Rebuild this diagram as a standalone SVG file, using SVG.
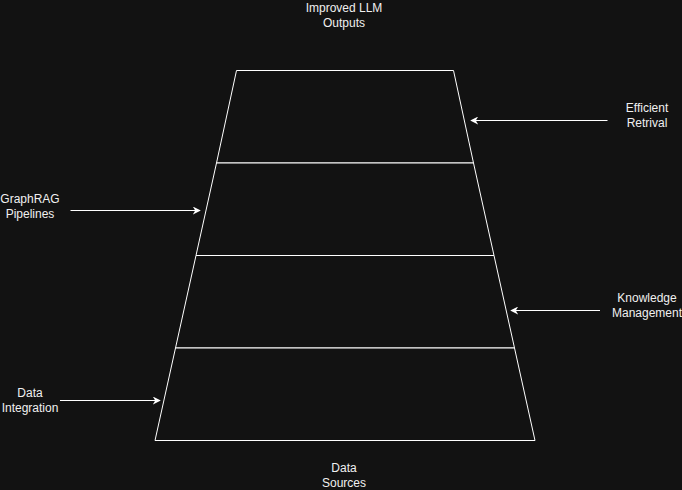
<svg xmlns="http://www.w3.org/2000/svg" width="682" height="490" viewBox="0 0 682 490">
<style>
.layer{fill:#121212;stroke:#ffffff;stroke-width:1}
.lbl{font-family:"Liberation Sans",Arial,sans-serif;font-size:12px;fill:#f0f0f0;text-anchor:middle}
.conn{stroke:#ffffff;stroke-width:1;fill:none;marker-end:url(#arr)}
</style>
<defs>
<marker id="arr" viewBox="0 0 10 10" markerWidth="8" markerHeight="8" refX="9" refY="5" orient="auto" markerUnits="userSpaceOnUse">
<path d="M0,0 L10,5 L0,10 L3,5 Z" fill="#ffffff" stroke="none"/>
</marker>
</defs>
<rect x="0" y="0" width="682" height="490" fill="#121212"/>
<g id="layer1"><polygon class="layer" points="236.5,70.5 453.5,70.5 473.5,163 216.5,163"/></g>
<g id="layer2"><polygon class="layer" points="216.5,163 473.5,163 494,255.5 196,255.5"/></g>
<g id="layer3"><polygon class="layer" points="196,255.5 494,255.5 514.5,348 175.5,348"/></g>
<g id="layer4"><polygon class="layer" points="175.5,348 514.5,348 535,440.5 155,440.5"/></g>
<g id="label-top"><text class="lbl" x="344" y="12">Improved LLM</text><text class="lbl" x="344" y="27">Outputs</text></g>
<g id="label-bottom"><text class="lbl" x="344" y="471.5">Data</text><text class="lbl" x="344" y="487">Sources</text></g>
<g id="label-efficient"><text class="lbl" x="647" y="111.5">Efficient</text><text class="lbl" x="647" y="127">Retrival</text></g>
<g id="label-graphrag"><text class="lbl" x="30" y="202.5">GraphRAG</text><text class="lbl" x="30" y="217.5">Pipelines</text></g>
<g id="label-knowledge"><text class="lbl" x="647" y="302">Knowledge</text><text class="lbl" x="647" y="317">Management</text></g>
<g id="label-data"><text class="lbl" x="30" y="397">Data</text><text class="lbl" x="30" y="412">Integration</text></g>
<g id="connectors">
<line class="conn" x1="607.5" y1="120.5" x2="471" y2="120.5"/>
<line class="conn" x1="70.5" y1="210.5" x2="200" y2="210.5"/>
<line class="conn" x1="600" y1="310.5" x2="511" y2="310.5"/>
<line class="conn" x1="60" y1="400.5" x2="160" y2="400.5"/>
</g>
</svg>
